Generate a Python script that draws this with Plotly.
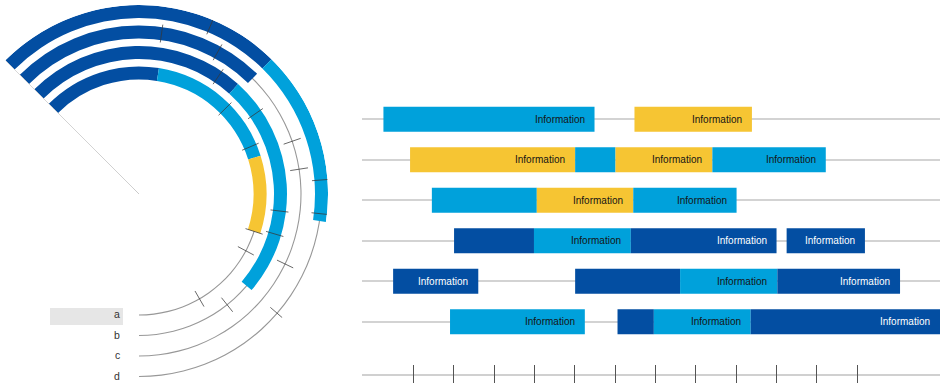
import plotly.graph_objects as go

W, H = 940, 383

PALETTE = {"dark": "#034ea2", "light": "#00a1db", "yellow": "#f6c533"}
TEXT_ON = {"dark": "#ffffff", "light": "#151515", "yellow": "#151515"}

# ---------------- ring chart (left) ----------------
track_names = ["a", "b", "c", "d"]
track_radius = [121, 141.5, 162, 182.5]
track_from, track_to = 135, -90          # every track runs clockwise from 135° down to -90°

seg_track = ["a", "a", "a", "b", "b", "c", "d", "d"]
seg_from = [135, 81, 17.5, 135, 48, 135, 135, 45.5]
seg_to = [81, 17.5, -18, 48, -40.5, 45.5, 45.5, -8.5]
seg_color = ["dark", "light", "yellow", "dark", "light", "dark", "dark", "light"]

tick_track = ["a"] * 5 + ["b"] * 5 + ["c"] * 5 + ["d"] * 4
tick_angle = [44.7, 23, -18, -28, -60,
              56, 34.6, -6.9, -16.4, -51.5,
              82, 61, 19, 8.8, -25.6,
              67, 4.4, -6.2, -40.8]

# ---------------- gantt rows (right) ----------------
gantt_row = [0, 0, 1, 1, 1, 1, 2, 2, 2, 3, 3, 3, 3, 4, 4, 4, 4, 5, 5, 5, 5]
gantt_start = [0.26, 6.48, 0.92, 5.01, 6.01, 8.41, 1.46, 4.06, 6.45, 2.01, 3.99, 6.39, 10.25,
               0.50, 5.01, 7.61, 10.02, 1.91, 6.06, 6.96, 9.36]
gantt_end = [5.49, 9.39, 5.01, 6.01, 8.41, 11.22, 4.06, 6.45, 9.01, 3.99, 6.39, 10.00, 12.19,
             2.61, 7.61, 10.02, 13.06, 5.25, 6.96, 9.36, 14.05]
gantt_color = ["light", "yellow",
               "yellow", "light", "yellow", "light",
               "light", "yellow", "light",
               "dark", "light", "dark", "dark",
               "dark", "dark", "light", "dark",
               "light", "dark", "light", "dark"]
gantt_label = ["Information", "Information",
               "Information", "", "Information", "Information",
               "", "Information", "Information",
               "", "Information", "Information", "Information",
               "Information", "", "Information", "Information",
               "Information", "", "Information", "Information"]
row_ids = [0, 1, 2, 3, 4, 5]
axis_ticks = list(range(1, 13))

radius_of = dict(zip(track_names, track_radius))
RING_W = 13
R_MAX = 189
CX, CY = 139, 194

fig = go.Figure()

# thin guide line for every track (drawn first so the coloured arcs sit on top)
fig.add_trace(go.Barpolar(
    r=[1.1] * len(track_names),
    base=[r - 0.55 for r in track_radius],
    theta=[(track_from + track_to) / 2] * len(track_names),
    width=[track_from - track_to] * len(track_names),
    marker=dict(color="#989898", line=dict(width=0)),
    hoverinfo="skip", showlegend=False,
))

# coloured arc segments
fig.add_trace(go.Barpolar(
    r=[RING_W] * len(seg_track),
    base=[radius_of[t] - RING_W / 2 for t in seg_track],
    theta=[(a + b) / 2 for a, b in zip(seg_from, seg_to)],
    width=[a - b for a, b in zip(seg_from, seg_to)],
    marker=dict(color=[PALETTE[c] for c in seg_color], line=dict(width=0)),
    hoverinfo="skip", showlegend=False,
))

# radial tick marks across the tracks
tr, tt = [], []
for name, ang in zip(tick_track, tick_angle):
    rr = radius_of[name]
    tr += [rr - 9, rr + 9, None]
    tt += [ang, ang, None]
fig.add_trace(go.Scatterpolar(
    r=tr, theta=tt, mode="lines",
    line=dict(color="rgba(55,55,55,0.75)", width=1),
    hoverinfo="skip", showlegend=False,
))

# start spoke
fig.add_trace(go.Scatterpolar(
    r=[0, R_MAX], theta=[track_from, track_from], mode="lines",
    line=dict(color="#9a9a9a", width=1),
    hoverinfo="skip", showlegend=False,
))

# gantt bars
fig.add_trace(go.Bar(
    orientation="h",
    y=gantt_row,
    base=gantt_start,
    x=[e - s for s, e in zip(gantt_start, gantt_end)],
    width=0.617,
    marker=dict(color=[PALETTE[c] for c in gantt_color], line=dict(width=0)),
    hoverinfo="skip", showlegend=False,
))

annotations = []
for row, end, col, lab in zip(gantt_row, gantt_end, gantt_color, gantt_label):
    if not lab:
        continue
    annotations.append(dict(
        x=end, y=row, xref="x", yref="y", text=lab, showarrow=False,
        xanchor="right", yanchor="middle", xshift=-8,
        font=dict(size=10, color=TEXT_ON[col], family="Liberation Sans, Arial"),
    ))

for name, rr in zip(track_names, track_radius):
    annotations.append(dict(
        x=122 / W, y=1 - (CY + rr) / H, xref="paper", yref="paper",
        text=name, showarrow=False, xanchor="right", yanchor="middle", yshift=1,
        font=dict(size=10.5, color="#333333", family="Liberation Sans, Arial"),
    ))

shapes = [
    # highlight behind the first track label
    dict(type="rect", xref="paper", yref="paper",
         x0=50 / W, x1=123 / W, y0=1 - 325 / H, y1=1 - 308 / H,
         fillcolor="#e6e6e6", line=dict(width=0), layer="below"),
    # timeline base line
    dict(type="line", xref="x domain", yref="paper", x0=0, x1=1,
         y0=1 - 375 / H, y1=1 - 375 / H,
         line=dict(color="#d0d0d0", width=2), layer="below"),
]

# polar domain: sector [-90, 135] fitted so the centre lands at (CX, CY)
bbox_cx = CX + R_MAX * (1 - 0.70711) / 2
half_w = 165
fig.update_layout(
    width=W, height=H,
    margin=dict(l=0, r=0, t=0, b=0),
    paper_bgcolor="white", plot_bgcolor="white",
    font=dict(family="Liberation Sans, Arial", color="#333"),
    barmode="overlay",
    polar=dict(
        domain=dict(x=[(bbox_cx - half_w) / W, (bbox_cx + half_w) / W],
                    y=[0, (H - (CY - R_MAX)) / H]),
        sector=[track_to, track_from],
        bgcolor="rgba(0,0,0,0)",
        radialaxis=dict(range=[0, R_MAX], visible=False),
        angularaxis=dict(visible=False, direction="counterclockwise", rotation=0),
    ),
    xaxis=dict(domain=[362 / W, 1], range=[-0.271, 14.05], anchor="y",
               showgrid=False, zeroline=False, showline=False,
               tickmode="array", tickvals=axis_ticks, showticklabels=False,
               ticks="inside", ticklen=18, tickwidth=1, tickcolor="#555555"),
    yaxis=dict(domain=[0, 288 / H], range=[6.514, -0.598],
               tickmode="array", tickvals=row_ids, showticklabels=False,
               showgrid=True, gridcolor="#d3d3d3", gridwidth=1.6,
               zeroline=False, showline=False, ticks=""),
    annotations=annotations,
    shapes=shapes,
)

fig.write_html("out.html")
